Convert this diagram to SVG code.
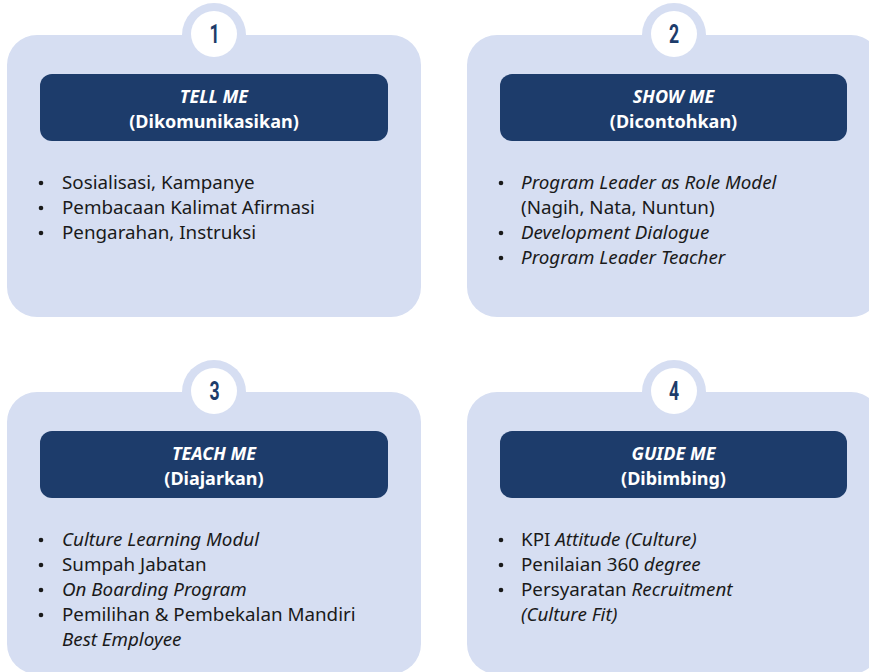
<svg xmlns="http://www.w3.org/2000/svg" width="869" height="672" viewBox="0 0 869 672">
<style>
.panel{fill:#d6def2}
.ring{fill:#d6def2}
.hole{fill:#ffffff}
.num{font-family:Roboto,"Liberation Sans",sans-serif;font-weight:700;font-size:26px;fill:#1d3c6b;text-anchor:middle}
.head{fill:#1d3c6b}
.ht{font-family:"Noto Sans",sans-serif;font-weight:700;font-size:18px;fill:#ffffff;text-anchor:middle}
.it{font-style:italic}
.body{font-family:"Noto Sans",sans-serif;font-size:18.8px;fill:#1a1a1a}
.dot{fill:#1a1a1a}
</style>
<rect width="869" height="672" fill="#ffffff"/>

<g id="node1">
<circle class="ring" cx="214" cy="35" r="32"/>
<rect class="panel" x="7" y="35" width="414" height="282" rx="30"/>
<circle class="hole" cx="214" cy="34" r="23"/>
<text class="num" transform="translate(214.5 43) scale(0.68 1)">1</text>
<rect class="head" x="40" y="74" width="348" height="67" rx="12"/>
<text class="ht it" x="214" y="103">TELL ME</text>
<text class="ht" x="214" y="128">(Dikomunikasikan)</text>
<circle class="dot" cx="41" cy="183" r="2.3"/>
<circle class="dot" cx="41" cy="208" r="2.3"/>
<circle class="dot" cx="41" cy="233" r="2.3"/>
<text class="body" x="62" y="189">Sosialisasi, Kampanye</text>
<text class="body" x="62" y="214">Pembacaan Kalimat Afirmasi</text>
<text class="body" x="62" y="239">Pengarahan, Instruksi</text>
</g>

<g id="node2">
<circle class="ring" cx="674" cy="35" r="32"/>
<rect class="panel" x="467" y="35" width="414" height="282" rx="30"/>
<circle class="hole" cx="674" cy="34" r="23"/>
<text class="num" transform="translate(674 43) scale(0.68 1)">2</text>
<rect class="head" x="500" y="74" width="347" height="67" rx="12"/>
<text class="ht it" x="673.5" y="103">SHOW ME</text>
<text class="ht" x="673.5" y="128">(Dicontohkan)</text>
<circle class="dot" cx="501" cy="183" r="2.3"/>
<circle class="dot" cx="501" cy="233" r="2.3"/>
<circle class="dot" cx="501" cy="258" r="2.3"/>
<text class="body it" x="521" y="189">Program Leader as Role Model</text>
<text class="body" x="521" y="214">(Nagih, Nata, Nuntun)</text>
<text class="body it" x="521" y="239">Development Dialogue</text>
<text class="body it" x="521" y="264">Program Leader Teacher</text>
</g>

<g id="node3">
<circle class="ring" cx="214" cy="392" r="32"/>
<rect class="panel" x="7" y="392" width="414" height="282" rx="30"/>
<circle class="hole" cx="214" cy="391" r="23"/>
<text class="num" transform="translate(214.5 400) scale(0.68 1)">3</text>
<rect class="head" x="40" y="431" width="348" height="67" rx="12"/>
<text class="ht it" x="214" y="460">TEACH ME</text>
<text class="ht" x="214" y="485">(Diajarkan)</text>
<circle class="dot" cx="41" cy="540" r="2.3"/>
<circle class="dot" cx="41" cy="565" r="2.3"/>
<circle class="dot" cx="41" cy="590" r="2.3"/>
<circle class="dot" cx="41" cy="615" r="2.3"/>
<text class="body it" x="62" y="546">Culture Learning Modul</text>
<text class="body" x="62" y="571">Sumpah Jabatan</text>
<text class="body it" x="62" y="596">On Boarding Program</text>
<text class="body" x="62" y="621">Pemilihan &amp; Pembekalan Mandiri</text>
<text class="body it" x="62" y="646">Best Employee</text>
</g>

<g id="node4">
<circle class="ring" cx="674" cy="392" r="32"/>
<rect class="panel" x="467" y="392" width="414" height="282" rx="30"/>
<circle class="hole" cx="674" cy="391" r="23"/>
<text class="num" transform="translate(674 400) scale(0.68 1)">4</text>
<rect class="head" x="500" y="431" width="347" height="67" rx="12"/>
<text class="ht it" x="673.5" y="460">GUIDE ME</text>
<text class="ht" x="673.5" y="485">(Dibimbing)</text>
<circle class="dot" cx="501" cy="540" r="2.3"/>
<circle class="dot" cx="501" cy="565" r="2.3"/>
<circle class="dot" cx="501" cy="590" r="2.3"/>
<text class="body" x="521" y="546">KPI <tspan class="it">Attitude (Culture)</tspan></text>
<text class="body" x="521" y="571">Penilaian 360 <tspan class="it">degree</tspan></text>
<text class="body" x="521" y="596">Persyaratan <tspan class="it">Recruitment</tspan></text>
<text class="body it" x="521" y="621">(Culture Fit)</text>
</g>

<g id="connectors"></g>
</svg>
